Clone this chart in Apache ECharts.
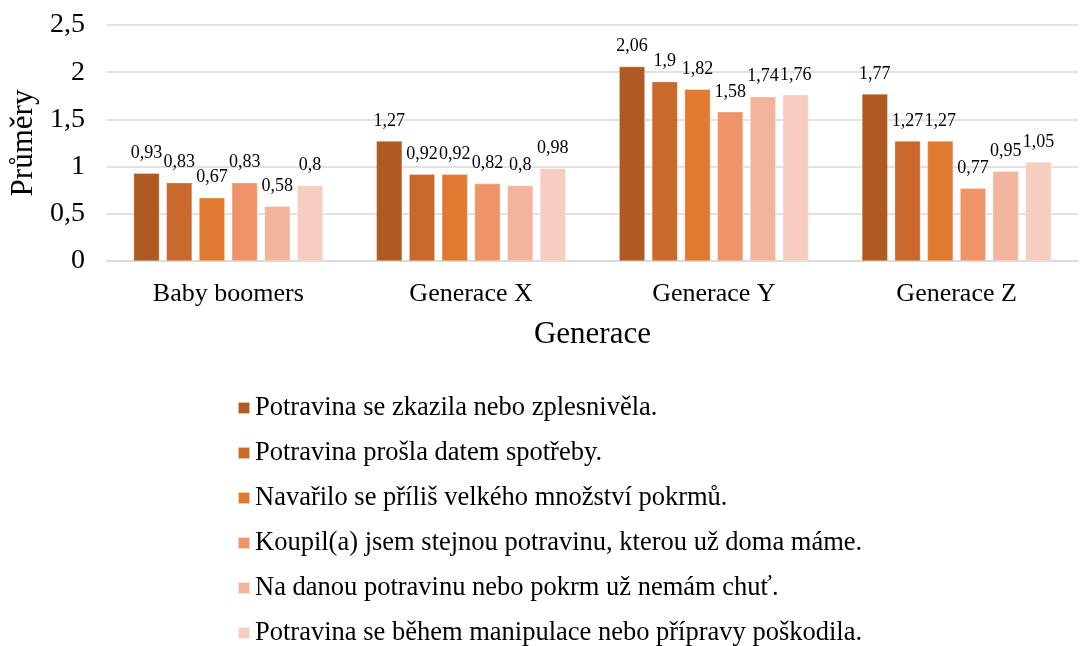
<!DOCTYPE html>
<html><head><meta charset="utf-8">
<script src="https://cdn.jsdelivr.net/npm/echarts@6/dist/echarts.min.js"></script>
<style>html,body{margin:0;padding:0;background:#fff}#c{width:1080px;height:646px}</style>
</head><body><div id="c"></div>
<script>
const categories = ['Baby boomers', 'Generace X', 'Generace Y', 'Generace Z'];
const seriesNames = [
  'Potravina se zkazila nebo zplesnivěla.',
  'Potravina prošla datem spotřeby.',
  'Navařilo se příliš velkého množství pokrmů.',
  'Koupil(a) jsem stejnou potravinu, kterou už doma máme.',
  'Na danou potravinu nebo pokrm už nemám chuť.',
  'Potravina se během manipulace nebo přípravy poškodila.'
];
const s1 = [0.93, 1.27, 2.06, 1.77];
const s2 = [0.83, 0.92, 1.9, 1.27];
const s3 = [0.67, 0.92, 1.82, 1.27];
const s4 = [0.83, 0.82, 1.58, 0.77];
const s5 = [0.58, 0.8, 1.74, 0.95];
const s6 = [0.8, 0.98, 1.76, 1.05];
const colors = ['#AE5A21', '#C9692B', '#E07A30', '#EF9468', '#F2B49C', '#F6CDBF'];
const allData = [s1, s2, s3, s4, s5, s6];
const font = '"Liberation Serif", "Times New Roman", serif';
const fmt = v => String(v).replace('.', ',');

const chart = echarts.init(document.getElementById('c'));
chart.setOption({
  animation: false,
  color: colors,
  textStyle: { fontFamily: font, color: '#000' },
  grid: { left: 104, right: 2, top: 25, bottom: 385, containLabel: false },
  xAxis: {
    type: 'category', data: categories,
    axisLine: { show: true, lineStyle: { color: '#d9d9d9', width: 1.5 } },
    axisTick: { show: false },
    axisLabel: { fontFamily: font, fontSize: 26, color: '#000', margin: 20 },
    name: 'Generace', nameLocation: 'middle', nameGap: 58,
    nameTextStyle: { fontFamily: font, fontSize: 31, color: '#000' }
  },
  yAxis: {
    type: 'value', min: 0, max: 2.5, interval: 0.5,
    axisLine: { show: false }, axisTick: { show: false },
    splitLine: { lineStyle: { color: '#d9d9d9', width: 1.5 } },
    axisLabel: { fontFamily: font, fontSize: 28, color: '#000', margin: 22, formatter: fmt },
    name: 'Průměry', nameLocation: 'middle', nameGap: 52, nameRotate: 90,
    nameTextStyle: { fontFamily: font, fontSize: 31, color: '#000' }
  },
  legend: {
    orient: 'vertical', left: 237, top: 393, height: 400, padding: 0,
    itemWidth: 12, itemHeight: 12, itemGap: 15,
    icon: 'rect',
    textStyle: { fontFamily: font, fontSize: 26.5, color: '#000', lineHeight: 30 },
    data: seriesNames
  },
  series: allData.map((d, i) => ({
    name: seriesNames[i], type: 'bar', data: d,
    barGap: '27%', barCategoryGap: '22%',
    itemStyle: { color: colors[i], borderColor: 'rgba(255,255,255,0.6)', borderWidth: 0.5 },
    label: { show: true, position: 'top', distance: 11, fontFamily: font, fontSize: 18, color: '#000', formatter: p => fmt(p.value) }
  }))
});
</script></body></html>
